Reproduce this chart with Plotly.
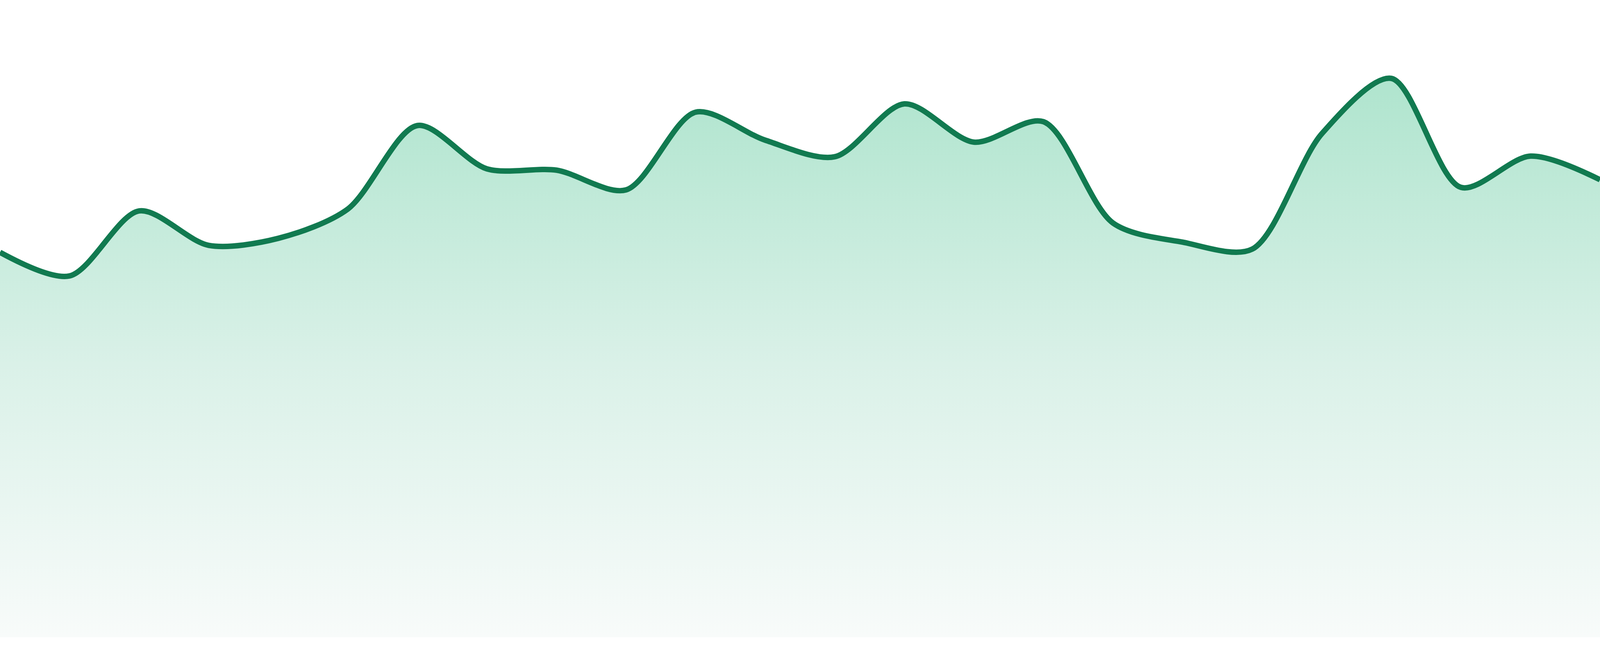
import plotly.graph_objects as go

# Index of each sample along the x axis (no tick labels shown in the chart)
x_index = list(range(24))

# Series values (arbitrary units, 0 = bottom of plot)
values = [60.4, 56.7, 66.9, 61.5, 62.6, 67.2, 80.3, 73.5, 73.3, 70.2,
          82.4, 78.0, 75.4, 83.7, 77.7, 80.9, 65.0, 62.0, 60.9, 79.0,
          87.7, 70.6, 75.5, 71.8]

LINE_COLOR = "#117a50"
FILL_TOP = "#b1e5cf"
FILL_MID = "#daf1e8"
FILL_BOTTOM = "#f8fbfa"

fig = go.Figure()
fig.add_trace(go.Scatter(
    x=x_index,
    y=values,
    mode="lines",
    line=dict(color=LINE_COLOR, width=14, shape="spline", smoothing=0.85),
    fill="tozeroy",
    fillgradient=dict(
        type="vertical",
        start=0,
        stop=85.6,
        colorscale=[[0, FILL_BOTTOM], [0.5, FILL_MID], [1, FILL_TOP]],
    ),
    hoverinfo="skip",
    showlegend=False,
))

fig.update_layout(
    autosize=True,
    margin=dict(l=0, r=0, t=0, b=48, pad=0),
    paper_bgcolor="white",
    plot_bgcolor="white",
    xaxis=dict(range=[0, 23], visible=False, showgrid=False, zeroline=False, fixedrange=True),
    yaxis=dict(range=[0, 100], visible=False, showgrid=False, zeroline=False, fixedrange=True),
)

fig.write_html(
    "out.html",
    default_width="100vw",
    default_height="100vh",
    config={"displayModeBar": False, "responsive": True},
    post_script=(
        "document.documentElement.style.margin='0';"
        "document.body.style.margin='0';"
        "document.body.style.overflow='hidden';"
        "Plotly.Plots.resize(document.getElementById('{plot_id}'));"
    ),
)
